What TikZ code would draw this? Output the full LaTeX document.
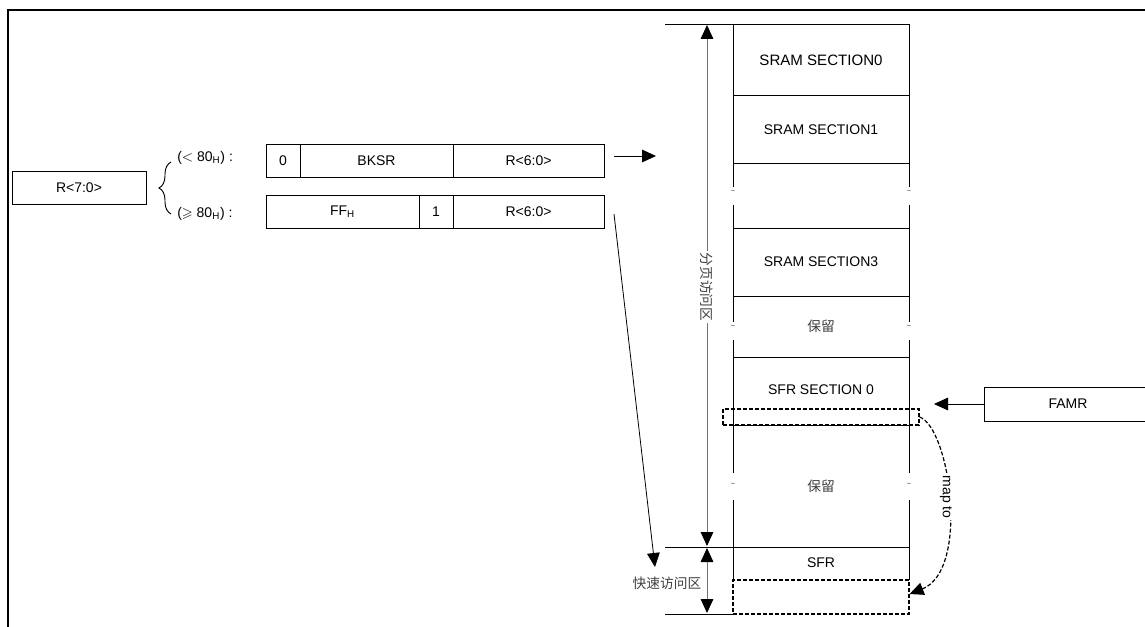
\documentclass[tikz,border=0pt]{standalone}
\usepackage{fontspec}
\usepackage{amssymb}
\setmainfont{Liberation Sans}
\newfontfamily\cjk{Noto Sans CJK SC}
\usetikzlibrary{arrows.meta,decorations.pathreplacing}
\begin{document}
\begin{tikzpicture}[x=0.75pt,y=-0.75pt,
  txt/.style={font=\fontsize{10.5}{12}\selectfont, inner sep=0pt},
  cjktxt/.style={font=\cjk\fontsize{10.3}{12}\selectfont, text=black!75, inner sep=1pt},
  box/.style={draw, line width=0.6pt, inner sep=0pt, font=\fontsize{10.5}{12}\selectfont},
  mline/.style={line width=0.6pt},
  dbox/.style={draw, dashed, dash pattern=on 3pt off 1.5pt, line width=0.9pt, inner sep=0pt},
  tip/.style={-{Triangle[length=10.5pt,width=9.5pt]}, line width=0.6pt},
  dimline/.style={{Triangle[length=10.5pt,width=9.5pt,color=black]}-{Triangle[length=10.5pt,width=9.5pt,color=black]}, line width=0.6pt, draw=black!55},
  tilde/.style={font=\fontsize{6}{6}\selectfont, inner sep=0pt, text=black!70},
]
\clip (0,0) rectangle (1145,627);
\useasboundingbox (0,0) rectangle (1145,627);
\fill[white] (0,0) rectangle (1145,627);
% frame
\draw[line width=1.8pt] (8,627) -- (8,10) -- (1150,10);

% R<7:0>
\node[box, minimum width=100.5pt, minimum height=24.75pt] (r70) at (79,187.5) {R<7:0>};
\draw[line width=0.7pt, decorate, decoration={brace, amplitude=9pt}] (171,214) -- (171,162);
\node[txt, anchor=west] (lt) at (177,158) {($<$ 80\textsubscript{H}) :};
\node[txt, anchor=west] (ge) at (177,214) {($\geqslant$ 80\textsubscript{H}) :};

% register rows
\node[box, minimum width=25.5pt, minimum height=24.75pt] (u0) at (283,160.5) {0};
\node[box, minimum width=114.75pt, minimum height=24.75pt] (u1) at (376.5,160.5) {BKSR};
\node[box, minimum width=113.25pt, minimum height=24.75pt] (u2) at (528.5,160.5) {R<6:0>};
\node[box, minimum width=114.75pt, minimum height=24.75pt] (l0) at (342.5,211.5) {FF\textsubscript{H}};
\node[box, minimum width=25.5pt, minimum height=24.75pt] (l1) at (436,211.5) {1};
\node[box, minimum width=113.25pt, minimum height=24.75pt] (l2) at (528.5,211.5) {R<6:0>};

\coordinate (a1s) at (614,156);
\coordinate (a1e) at (656,156);
\draw[tip] (a1s) -- (a1e);
\coordinate (a2s) at (614,214);
\coordinate (a2e) at (655,567);
\draw[tip] (a2s) -- (a2e);

% memory column
\draw[mline] (665,24) -- (909,24);
\foreach \yy in {95.7,163,228,296,357,425} \draw[mline] (733,\yy) -- (909,\yy);
\draw[mline] (665,547) -- (909,547);
\draw[mline] (665,614) -- (733,614);
\foreach \xx in {733,909} {
  \draw[mline] (\xx,24) -- (\xx,187);
  \draw[mline] (\xx,205) -- (\xx,322);
  \draw[mline] (\xx,340) -- (\xx,473);
  \draw[mline] (\xx,500) -- (\xx,580);
  \node[tilde] at (\xx,192) {\textasciitilde};
  \node[tilde] at (\xx,327) {\textasciitilde};
  \node[tilde] at (\xx,485) {\textasciitilde};
}
\node[txt, font=\fontsize{11.3}{12}\selectfont] (s0) at (821,60) {SRAM SECTION0};
\node[txt] (s1) at (821,130) {SRAM SECTION1};
\node[txt] (s3) at (821,262) {SRAM SECTION3};
\node[cjktxt] (rs1) at (821,326) {保留};
\node[txt] (sf0) at (821,390) {SFR SECTION 0};
\node[cjktxt] (rs2) at (821,486) {保留};
\node[txt] (sfr) at (821,563) {SFR};

\node[dbox, minimum width=147pt, minimum height=12pt] (sel) at (821,417) {};
\node[dbox, minimum width=132pt, minimum height=25.5pt] (fast) at (821,597) {};

% dimension arrows
\coordinate (p1) at (707,25);
\coordinate (p2) at (707,546);
\coordinate (p3) at (707,548);
\coordinate (p4) at (707,613);
\draw[dimline] (p1) -- (p2);
\draw[dimline] (p3) -- (p4);
\node[cjktxt, fill=white, rotate=-90] (pg) at (707,287) {分页访问区};
\node[cjktxt, anchor=east] (fz) at (703,583) {快速访问区};

% FAMR
\node[box, minimum width=126pt, minimum height=25.5pt] (famr) at (1068,404) {FAMR};
\coordinate (fe) at (934,404);
\draw[tip] (famr.west) -- (fe);

% map to
\draw[dashed, dash pattern=on 3pt off 1.5pt, line width=0.9pt, -{Triangle[length=10.5pt,width=9.5pt]}]
  (sel.east) .. controls (950,428) and (970,570) .. (fast.east |- 0,594);
\node[txt, fill=white, rotate=-90, inner sep=1.5pt] (mt) at (946,497) {map to};
\end{tikzpicture}
\end{document}
